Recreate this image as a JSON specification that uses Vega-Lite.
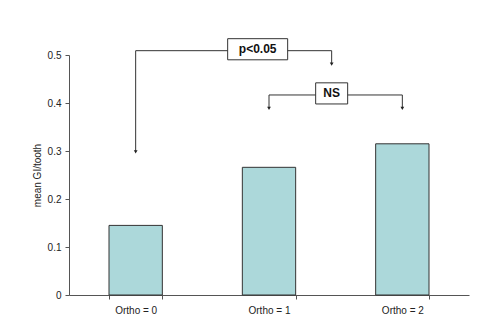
{
  "$schema": "https://vega.github.io/schema/vega-lite/v6.json",
  "width": 400,
  "height": 240,
  "autosize": {"type": "none"},
  "padding": {"left": 69, "top": 55, "right": 16, "bottom": 39},
  "config": {"view": {"stroke": null}, "font": "Liberation Sans"},
  "datasets": {
    "bars": [
      {"group": "Ortho = 0", "value": 0.145},
      {"group": "Ortho = 1", "value": 0.266},
      {"group": "Ortho = 2", "value": 0.315}
    ],
    "segments": [
      {"x": 0, "x2": 0, "y": 0.509, "y2": 0.298},
      {"x": 0, "x2": 1.47, "y": 0.509, "y2": 0.509},
      {"x": 1.47, "x2": 1.47, "y": 0.509, "y2": 0.481},
      {"x": 1, "x2": 1, "y": 0.4167, "y2": 0.389},
      {"x": 1, "x2": 2, "y": 0.4167, "y2": 0.4167},
      {"x": 2, "x2": 2, "y": 0.4167, "y2": 0.389}
    ],
    "arrows": [
      {"x": 0, "y": 0.298},
      {"x": 1.47, "y": 0.481},
      {"x": 1, "y": 0.389},
      {"x": 2, "y": 0.389}
    ],
    "boxes": [
      {"label": "p<0.05", "x": 0.69, "x2": 1.14, "y": 0.49, "y2": 0.534, "xc": 0.915, "yc": 0.512},
      {"label": "NS", "x": 1.35, "x2": 1.59, "y": 0.398, "y2": 0.442, "xc": 1.47, "yc": 0.42}
    ]
  },
  "layer": [
    {
      "data": {"name": "bars"},
      "mark": {"type": "bar", "fill": "#acd8da", "stroke": "#333333", "strokeWidth": 1},
      "encoding": {
        "x": {
          "field": "group", "type": "nominal", "title": null,
          "scale": {"paddingInner": 0.6, "paddingOuter": 0.3},
          "axis": {
            "labelAngle": 0, "tickBand": "extent", "tickSize": 4, "labelPadding": 6,
            "labelFontSize": 10, "labelColor": "#222222", "domainColor": "#555555", "tickColor": "#555555"
          }
        },
        "y": {
          "field": "value", "type": "quantitative", "title": "mean GI/tooth",
          "scale": {"domain": [0, 0.5], "nice": false},
          "axis": {
            "values": [0, 0.1, 0.2, 0.3, 0.4, 0.5], "format": "~g", "grid": false,
            "tickSize": 4, "labelPadding": 4, "labelFontSize": 10, "labelColor": "#222222",
            "domainColor": "#555555", "tickColor": "#555555",
            "titleFontSize": 10, "titleFontWeight": "normal", "titleColor": "#222222", "titlePadding": 5
          }
        }
      }
    },
    {
      "data": {"name": "segments"},
      "mark": {"type": "rule", "color": "#333333", "strokeWidth": 1},
      "encoding": {
        "x": {"field": "x", "type": "quantitative", "scale": {"domain": [-0.5, 2.5], "nice": false, "zero": false}, "axis": null},
        "x2": {"field": "x2"},
        "y": {"field": "y", "type": "quantitative", "scale": {"domain": [0, 0.5], "nice": false}},
        "y2": {"field": "y2"}
      }
    },
    {
      "data": {"name": "arrows"},
      "mark": {"type": "point", "shape": "triangle-down", "filled": true, "color": "#222222", "size": 14, "opacity": 1},
      "encoding": {
        "x": {"field": "x", "type": "quantitative", "scale": {"domain": [-0.5, 2.5], "nice": false, "zero": false}, "axis": null},
        "y": {"field": "y", "type": "quantitative", "scale": {"domain": [0, 0.5], "nice": false}}
      }
    },
    {
      "data": {"name": "boxes"},
      "mark": {"type": "rect", "fill": "white", "stroke": "#333333", "strokeWidth": 1},
      "encoding": {
        "x": {"field": "x", "type": "quantitative", "scale": {"domain": [-0.5, 2.5], "nice": false, "zero": false}, "axis": null},
        "x2": {"field": "x2"},
        "y": {"field": "y", "type": "quantitative", "scale": {"domain": [0, 0.5], "nice": false}},
        "y2": {"field": "y2"}
      }
    },
    {
      "data": {"name": "boxes"},
      "mark": {"type": "text", "fontSize": 12, "fontWeight": "bold", "color": "#111111", "baseline": "middle", "align": "center"},
      "encoding": {
        "x": {"field": "xc", "type": "quantitative", "scale": {"domain": [-0.5, 2.5], "nice": false, "zero": false}, "axis": null},
        "y": {"field": "yc", "type": "quantitative", "scale": {"domain": [0, 0.5], "nice": false}},
        "text": {"field": "label"}
      }
    }
  ],
  "resolve": {"scale": {"x": "independent"}}
}
